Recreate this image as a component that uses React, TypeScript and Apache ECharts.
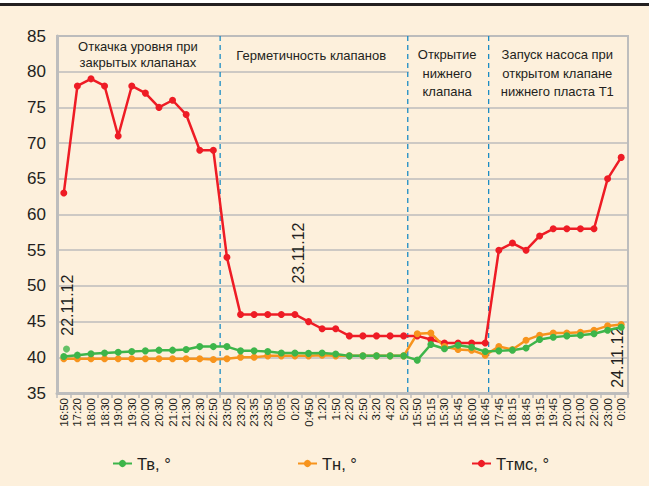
import React, { useEffect, useRef } from "react";
import * as echarts from "echarts";

const categories = [
  "16:50", "17:20", "18:00", "18:30", "19:00", "19:30", "20:00", "20:30", "21:00", "21:30",
  "22:30", "22:50", "23:05", "23:20", "23:35", "23:50", "0:05", "0:20", "0:450", "1:20",
  "1:50", "2:20", "2:50", "3:20", "4:20", "5:20", "15:50", "15:15", "15:30", "15:45",
  "16:00", "16:45", "17:45", "18:15", "18:45", "19:15", "19:45", "20:00", "21:00", "22:00",
  "23:00", "0:00",
];

const tv = [
  40.1, 40.3, 40.5, 40.6, 40.7, 40.8, 40.9, 41.0, 41.0, 41.1,
  41.5, 41.5, 41.5, 40.9, 40.9, 40.8, 40.6, 40.6, 40.55, 40.6,
  40.45, 40.2, 40.2, 40.2, 40.2, 40.2, 39.6, 41.8, 41.2, 41.7,
  41.4, 40.8, 40.9, 41.0, 41.3, 42.5, 42.8, 43.0, 43.1, 43.3,
  43.8, 44.2,
];

const tn = [
  39.8, 39.8, 39.8, 39.8, 39.8, 39.8, 39.8, 39.8, 39.8, 39.8,
  39.8, 39.7, 39.8, 40.0, 40.0, 40.2, 40.2, 40.2, 40.2, 40.3,
  40.2, 40.2, 40.2, 40.2, 40.2, 40.2, 43.3, 43.4, 41.5, 41.1,
  41.0, 40.3, 41.5, 41.1, 42.4, 43.1, 43.4, 43.4, 43.5, 43.8,
  44.4, 44.6,
];

const ttms = [
  63, 78, 79, 78, 71, 78, 77, 75, 76, 74,
  69, 69, 54, 46, 46, 46, 46, 46, 45, 44,
  44, 43, 43, 43, 43, 43, 43, 42.5, 42, 42,
  42, 42, 55, 56, 55, 57, 58, 58, 58, 58,
  65, 68,
];

// a lone Тв reading drawn just right of the first point
const tvExtra = [[0.7, 41.15]];

const seriesNames = ["Тв, °", "Тн, °", "Ттмс, °"];
const yMin = 35;
const yMax = 85;
const yStep = 5;

const sectionTitles = [
  "Откачка уровня при\nзакрытых клапанах",
  "Герметичность клапанов",
  "Открытие\nнижнего\nклапана",
  "Запуск насоса при\nоткрытом клапане\nнижнего пласта Т1",
];
// boundaries between the stages, in category units on the hidden value axis
const sectionBounds = [12, 25.8, 31.75];
const dateLabels = ["22.11.12", "23.11.12", "24.11.12"];

const GREEN = "#3db54a";
const ORANGE = "#f7941d";
const RED = "#ee1c25";
const BG = "#fdf0dc";
const GRIDC = "#bdbdbd";
const TEXT = "#231f20";
const BLUE = "#1b8cc4";
const FONT = '"Liberation Sans Narrow", "Arial Narrow", "Liberation Sans", Arial, sans-serif';

export default function App() {
  const ref = useRef<HTMLDivElement>(null);

  useEffect(() => {
    if (!ref.current) return;
    const chart = echarts.init(ref.current, undefined, { renderer: "svg" });

    const lineSeries = (name: string, data: number[], color: string) => ({
      name,
      type: "line",
      data,
      xAxisIndex: 0,
      yAxisIndex: 0,
      z: 3,
      symbol: "circle",
      symbolSize: 7,
      lineStyle: { color, width: 2.5 },
      itemStyle: { color },
    });

    const legendItem = (name: string, left: number) => ({
      data: [name],
      left,
      top: 450,
      itemWidth: 19,
      itemHeight: 9,
      itemGap: 6,
      textStyle: { fontFamily: FONT, fontSize: 16.5, color: TEXT },
    });

    chart.setOption({
      animation: false,
      backgroundColor: BG,
      textStyle: { fontFamily: FONT },
      grid: {
        left: 57,
        right: 21,
        top: 36,
        bottom: 93,
        show: true,
        borderColor: GRIDC,
        borderWidth: 2,
        backgroundColor: "transparent",
      },
      legend: [
        legendItem(seriesNames[0], 107),
        legendItem(seriesNames[1], 292),
        legendItem(seriesNames[2], 466),
      ],
      xAxis: [
        {
          type: "category",
          data: categories,
          boundaryGap: true,
          axisLine: { lineStyle: { color: GRIDC, width: 3 } },
          axisTick: { show: true, length: 5, lineStyle: { color: GRIDC, width: 1.5 } },
          axisLabel: {
            interval: 0,
            rotate: 90,
            fontSize: 11.5,
            color: TEXT,
            margin: 5,
            fontFamily: '"Liberation Sans", Arial, sans-serif',
          },
          splitLine: { show: false },
        },
        { type: "value", min: 0, max: categories.length, show: false },
      ],
      yAxis: {
        type: "value",
        min: yMin,
        max: yMax,
        interval: yStep,
        axisLine: { show: true, lineStyle: { color: GRIDC, width: 3 } },
        axisTick: { show: false },
        axisLabel: { fontSize: 17, color: TEXT, margin: 11, fontFamily: FONT },
        splitLine: { lineStyle: { color: GRIDC, width: 1.5 } },
      },
      series: [
        lineSeries(seriesNames[2], ttms, RED),
        lineSeries(seriesNames[1], tn, ORANGE),
        lineSeries(seriesNames[0], tv, GREEN),
        {
          type: "scatter",
          xAxisIndex: 1,
          yAxisIndex: 0,
          data: tvExtra,
          symbolSize: 7,
          itemStyle: { color: GREEN },
          z: 3,
        },
      ],
    });

    const X = (v: number) => chart.convertToPixel({ xAxisIndex: 1 }, v) as number;
    const Y = (v: number) => chart.convertToPixel({ yAxisIndex: 0 }, v) as number;

    const top = Y(yMax);
    const bottom = Y(yMin);
    const right = X(categories.length);

    const graphics: any[] = [];
    // cream panel behind the two right-hand stage titles
    graphics.push({
      type: "rect",
      z: 1,
      shape: { x: X(sectionBounds[1]) + 1, y: Y(84.7), width: right - X(sectionBounds[1]) - 2, height: Y(75.4) - Y(84.7) },
      style: { fill: BG },
    });
    sectionBounds.forEach((b) => {
      graphics.push({
        type: "line",
        z: 2,
        shape: { x1: X(b), y1: top, x2: X(b), y2: bottom },
        style: { stroke: BLUE, lineWidth: 1.3, lineDash: [5, 4] },
      });
    });
    const titlePos = [
      [5.95, 82.4, 15.5],
      [18.7, 82.2, 16],
      [28.7, 79.8, 18.5],
      [36.8, 79.8, 18.5],
    ];
    sectionTitles.forEach((t, i) => {
      graphics.push({
        type: "text",
        z: 2,
        x: X(titlePos[i][0]),
        y: Y(titlePos[i][1]),
        style: {
          text: t,
          fill: TEXT,
          font: `13px ${FONT}`,
          align: "center",
          verticalAlign: "middle",
          lineHeight: titlePos[i][2],
        },
      });
    });
    const datePos = [
      [0.77, 47.3],
      [17.8, 54.6],
      [41.25, 40.0],
    ];
    dateLabels.forEach((t, i) => {
      graphics.push({
        type: "text",
        z: 2,
        x: X(datePos[i][0]),
        y: Y(datePos[i][1]),
        rotation: Math.PI / 2,
        style: {
          text: t,
          fill: TEXT,
          font: `16px ${FONT}`,
          align: "center",
          verticalAlign: "middle",
        },
      });
    });

    chart.setOption({ graphic: graphics });

    return () => chart.dispose();
  }, []);

  return (
    <div style={{ position: "fixed", left: 0, top: 0, width: 649, height: 486, background: BG }}>
      <div ref={ref} style={{ position: "absolute", left: 0, top: 0, width: 649, height: 486 }} />
      <div style={{ position: "absolute", left: 0, top: 0, width: 649, height: 3, background: "#ffffff" }} />
      <div style={{ position: "absolute", left: 0, top: 3, width: 649, height: 2.5, background: TEXT }} />
    </div>
  );
}
